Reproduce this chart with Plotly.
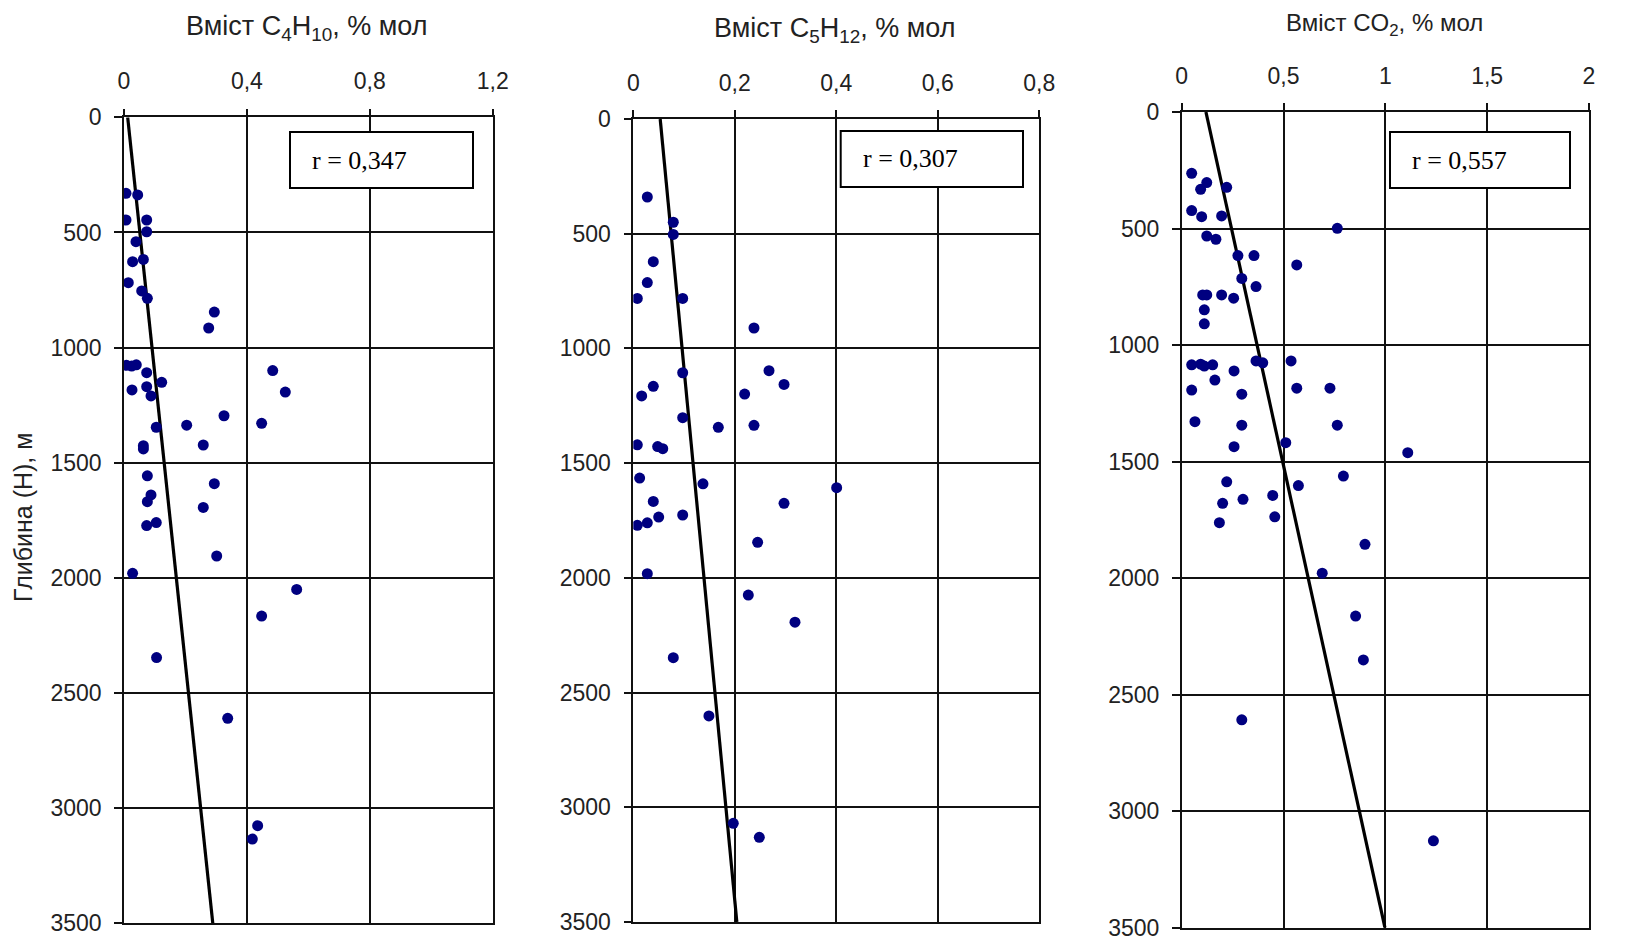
import plotly.graph_objects as go

# ---------------- data ----------------
c4_x = [0.0065, 0.0445, 0.0065, 0.0738, 0.0738, 0.039, 0.028, 0.063, 0.014, 0.0576, 0.076,
        0.294, 0.2756, 0.008, 0.025, 0.040, 0.0738, 0.484, 0.1227, 0.0738, 0.026, 0.0879,
        0.525, 0.3255, 0.448, 0.204, 0.105, 0.258, 0.063, 0.063, 0.076, 0.294, 0.0879,
        0.076, 0.258, 0.0738, 0.105, 0.3017, 0.028, 0.562, 0.448, 0.106, 0.3375, 0.435, 0.4177]
c4_depth = [330, 337, 446, 446, 497, 540, 627, 617, 718, 754, 786,
            846, 915, 1077, 1080, 1075, 1109, 1100, 1151, 1170, 1184, 1210,
            1193, 1296, 1329, 1337, 1346, 1423, 1426, 1440, 1557, 1591, 1640,
            1669, 1694, 1773, 1760, 1905, 1980, 2050, 2166, 2346, 2610, 3076, 3134]

c5_x = [0.0276, 0.0788, 0.0788, 0.0394, 0.0276, 0.0079, 0.0973, 0.2378, 0.0973, 0.2674,
        0.297, 0.0394, 0.0165, 0.2194, 0.0973, 0.1675, 0.2378, 0.0079, 0.048, 0.058,
        0.0125, 0.1373, 0.4007, 0.0394, 0.297, 0.0973, 0.05, 0.0276, 0.0079, 0.245,
        0.0276, 0.2266, 0.3186, 0.0788, 0.149, 0.197, 0.2483]
c5_depth = [340, 450, 503, 622, 713, 782, 782, 911, 1106, 1097,
            1157, 1165, 1207, 1199, 1302, 1344, 1335, 1420, 1428, 1437,
            1565, 1590, 1607, 1667, 1675, 1726, 1735, 1760, 1771, 1845,
            1982, 2075, 2193, 2348, 2602, 3070, 3131]

co2_x = [0.049, 0.123, 0.093, 0.221, 0.049, 0.098, 0.196, 0.764, 0.123, 0.168,
         0.276, 0.355, 0.565, 0.295, 0.365, 0.103, 0.123, 0.196, 0.255, 0.111,
         0.111, 0.049, 0.093, 0.111, 0.152, 0.257, 0.365, 0.398, 0.537, 0.049,
         0.163, 0.295, 0.565, 0.728, 0.065, 0.295, 0.764, 0.257, 0.511, 1.11,
         0.794, 0.221, 0.573, 0.201, 0.301, 0.447, 0.457, 0.185, 0.90, 0.69,
         0.854, 0.892, 0.295, 1.236]
co2_depth = [263, 303, 332, 323, 423, 449, 446, 499, 532, 546,
             616, 616, 656, 714, 749, 785, 785, 785, 799, 849,
             909, 1085, 1082, 1090, 1085, 1111, 1068, 1076, 1068, 1193,
             1150, 1211, 1185, 1185, 1329, 1344, 1344, 1436, 1419, 1462,
             1562, 1587, 1603, 1679, 1662, 1645, 1737, 1762, 1855, 1979,
             2163, 2351, 2608, 3127]

# trend lines: x at depth 0 and at depth 3500
trend_depth = [0, 3500]
c4_trend = [0.012, 0.289]
c5_trend = [0.053, 0.204]
co2_trend = [0.119, 0.998]

r_labels = ["r = 0,347", "r = 0,307", "r = 0,557"]
titles = ["Вміст C<sub>4</sub>H<sub>10</sub>, % мол",
          "Вміст C<sub>5</sub>H<sub>12</sub>, % мол",
          "Вміст CO<sub>2</sub>, % мол"]
x_ranges = [[0, 1.2], [0, 0.8], [0, 2]]
x_dticks = [0.4, 0.2, 0.5]
y_ticks = [0, 500, 1000, 1500, 2000, 2500, 3000, 3500]
y_title = "Глибина (Н), м"

# ---------------- figure ----------------
W, H = 1632, 937
SANS = "Arial, Liberation Sans, sans-serif"
SERIF = "Times New Roman, Liberation Serif, serif"
MARK = "#000080"

fig = go.Figure()

xdoms = [(124 / W, 492.7 / W), (633.3 / W, 1039.3 / W), (1181.7 / W, 1589 / W)]
ydoms = [(1 - 923.3 / H, 1 - 117.3 / H), (1 - 922 / H, 1 - 119 / H), (1 - 927.7 / H, 1 - 112 / H)]

series = [(c4_x, c4_depth, c4_trend), (c5_x, c5_depth, c5_trend), (co2_x, co2_depth, co2_trend)]
for i, (xs, ds, tr) in enumerate(series):
    xa = "x" if i == 0 else f"x{i+1}"
    ya = "y" if i == 0 else f"y{i+1}"
    fig.add_trace(go.Scatter(x=tr, y=trend_depth, mode="lines",
                             line=dict(color="black", width=3.2),
                             xaxis=xa, yaxis=ya, showlegend=False, hoverinfo="skip",
                             cliponaxis=False))
    fig.add_trace(go.Scatter(x=xs, y=ds, mode="markers",
                             marker=dict(color=MARK, size=11, line=dict(width=0)),
                             xaxis=xa, yaxis=ya, showlegend=False))

layout = dict(
    width=W, height=H, margin=dict(l=0, r=0, t=0, b=0, autoexpand=False),
    paper_bgcolor="white", plot_bgcolor="white",
    separators=", ",
    font=dict(family=SANS, color="#111"),
)
for i in range(3):
    xk = "xaxis" if i == 0 else f"xaxis{i+1}"
    yk = "yaxis" if i == 0 else f"yaxis{i+1}"
    yref = "y" if i == 0 else f"y{i+1}"
    xref = "x" if i == 0 else f"x{i+1}"
    layout[xk] = dict(domain=list(xdoms[i]), anchor=yref, side="top",
                      range=x_ranges[i], dtick=x_dticks[i], tick0=0,
                      showgrid=True, gridcolor="#111", gridwidth=1.6,
                      showline=True, linecolor="#111", linewidth=1.6, mirror=True,
                      ticks="outside", ticklen=7, tickcolor="#111", tickwidth=1.6,
                      ticklabelstandoff=10, ticklabeloverflow="allow",
                      tickfont=dict(size=23, family=SANS, color="#222"),
                      zeroline=False, fixedrange=True, automargin=False)
    layout[yk] = dict(domain=list(ydoms[i]), anchor=xref,
                      range=[3500, 0], tickvals=y_ticks,
                      showgrid=True, gridcolor="#111", gridwidth=1.6,
                      showline=True, linecolor="#111", linewidth=1.6, mirror=True,
                      ticks="outside", ticklen=8, tickcolor="#111", tickwidth=1.6,
                      ticklabelstandoff=8, ticklabeloverflow="allow",
                      tickfont=dict(size=23, family=SANS, color="#222"),
                      zeroline=False, fixedrange=True, automargin=False)

fig.update_layout(**layout)

# titles
title_pos = [(306 / W, 1 - 28 / H, 27), (835 / W, 1 - 30 / H, 27), (1384 / W, 1 - 25 / H, 24)]
for t, (x, y, s) in zip(titles, title_pos):
    fig.add_annotation(text=t, x=x, y=y, xref="paper", yref="paper",
                       xanchor="center", yanchor="middle", showarrow=False,
                       font=dict(size=s, family=SANS, color="#222"))

# r boxes: frame + text
box_pos = [(290, 132, 473, 188), (840.7, 131, 1023, 187), (1390, 132, 1570, 188)]
for t, (x0, y0, x1, y1) in zip(r_labels, box_pos):
    fig.add_shape(type="rect", xref="paper", yref="paper",
                  x0=x0 / W, x1=x1 / W, y0=1 - y1 / H, y1=1 - y0 / H,
                  line=dict(color="black", width=2), fillcolor="white", layer="above")
    fig.add_annotation(text=t, x=(x0 + 20) / W, y=1 - (y0 + y1) / 2 / H,
                       xref="paper", yref="paper",
                       xanchor="left", yanchor="middle", showarrow=False,
                       font=dict(size=26, family=SERIF, color="black"))

fig.add_annotation(text=y_title, x=23 / W, y=1 - 518 / H, xref="paper", yref="paper",
                   xanchor="center", yanchor="middle", showarrow=False, textangle=-90,
                   font=dict(size=25, family=SANS, color="#222"))

fig.write_html("out.html")
